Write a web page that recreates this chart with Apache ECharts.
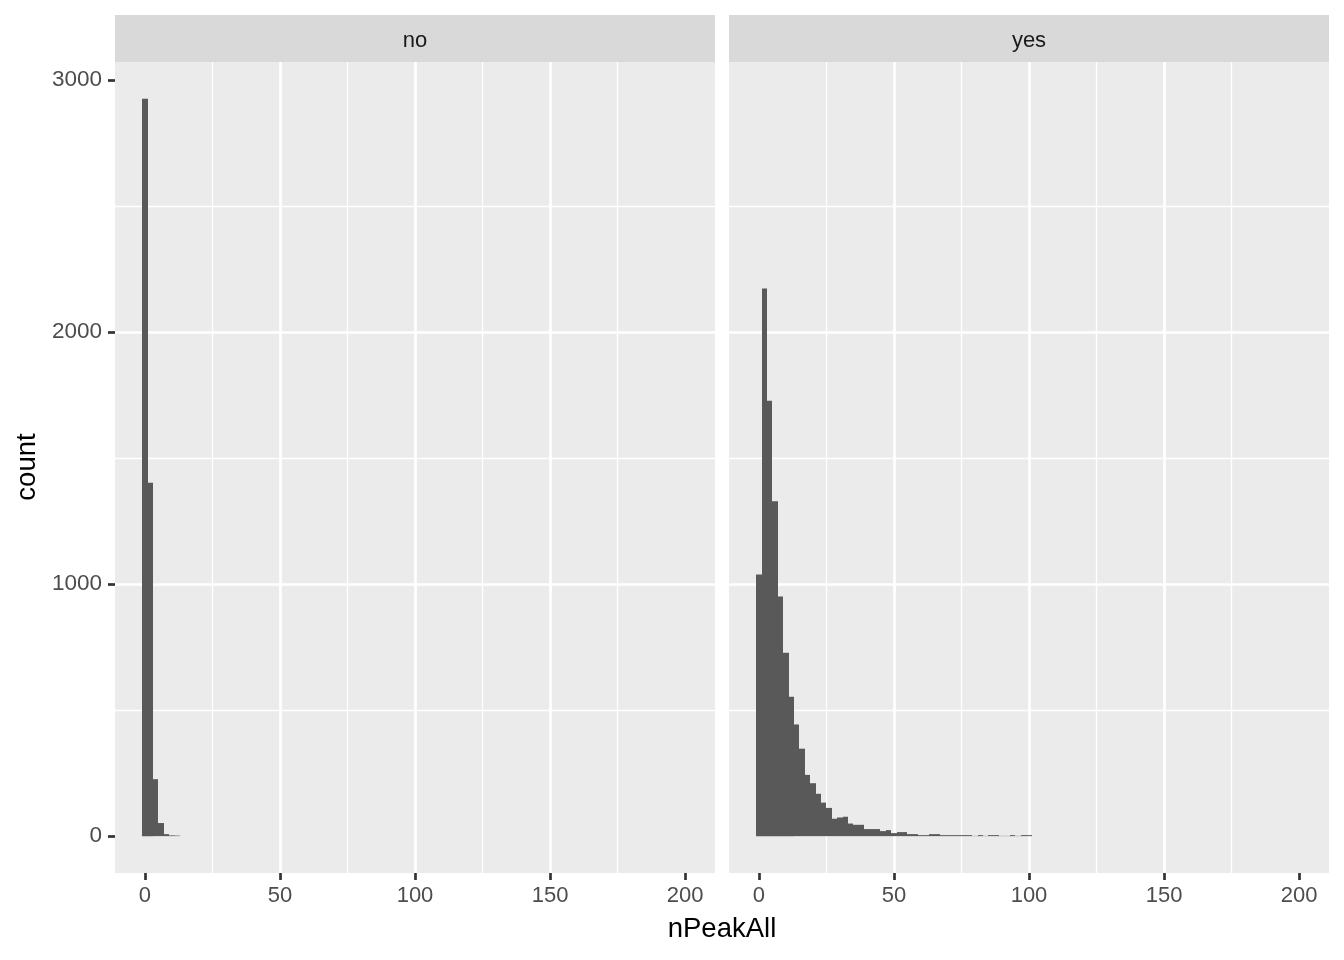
<!DOCTYPE html>
<html>
<head>
<meta charset="utf-8">
<title>nPeakAll histogram</title>
<script src="https://cdn.jsdelivr.net/npm/echarts@6/dist/echarts.min.js"></script>
<style>
  html, body { margin: 0; padding: 0; background: #fff; }
  #chart { width: 1344px; height: 960px; }
</style>
</head>
<body>
<div id="chart"></div>
<script>
// facet panels
const panels = ["no", "yes"];
// histogram bins: width 2, first bin starts at -1 (centres 0, 2, 4, ...)
const binStart = -1;
const binWidth = 2;
// counts per bin
const noCounts = [2925, 1402, 226, 52, 8, 3, 2];
const yesCounts = [
  1038, 2173, 1727, 1329, 951, 728, 553, 443, 347, 243,
  210, 168, 133, 112, 69, 74, 77, 50, 45, 45,
  28, 28, 28, 20, 24, 12, 16, 16, 8, 8,
  4, 4, 8, 8, 4, 4, 4, 4, 4, 4,
  1, 4, 1, 4, 4, 1, 1, 4, 1, 4,
  4
];
// axis ticks
const xTicks = [0, 50, 100, 150, 200];
const yTicks = [0, 1000, 2000, 3000];

const FONT = "Liberation Sans";
const xMin = -11.1, xMax = 211.1;
const yMin = -146.25, yMax = 3071.25;

function toBins(counts) {
  const out = [];
  counts.forEach((c, i) => {
    if (c > 0) {
      const lo = binStart + i * binWidth;
      out.push([lo, lo + binWidth, c]);
    }
  });
  return out;
}

const grids = [
  { left: 115, top: 62, width: 600, height: 811 },
  { left: 729, top: 62, width: 600, height: 811 }
];

function xAxisFor(i) {
  return {
    type: "value",
    gridIndex: i,
    min: xMin,
    max: xMax,
    splitNumber: 5,
    axisLine: { show: false, onZero: false },
    axisTick: {
      show: true, length: 7, customValues: xTicks,
      lineStyle: { color: "#333333", width: 2.7 }
    },
    axisLabel: {
      customValues: xTicks, margin: 12,
      color: "#4D4D4D", fontSize: 22, fontFamily: FONT,
      formatter: v => String(v)
    },
    splitLine: {
      show: true, showMinLine: false, showMaxLine: false,
      lineStyle: { color: "#ffffff", width: 2.7 }
    },
    minorTick: { show: false, splitNumber: 2 },
    minorSplitLine: { show: true, lineStyle: { color: "#ffffff", width: 1.35 } }
  };
}

function yAxisFor(i) {
  return {
    type: "value",
    gridIndex: i,
    min: yMin,
    max: yMax,
    splitNumber: 3,
    axisLine: { show: false, onZero: false },
    axisTick: {
      show: i === 0, length: 7, customValues: yTicks,
      lineStyle: { color: "#333333", width: 2.7 }
    },
    axisLabel: {
      show: i === 0, customValues: yTicks, margin: 13,
      color: "#4D4D4D", fontSize: 22.5, fontFamily: FONT,
      formatter: v => String(v)
    },
    splitLine: {
      show: true, showMinLine: false, showMaxLine: false,
      lineStyle: { color: "#ffffff", width: 2.7 }
    },
    minorTick: { show: false, splitNumber: 2 },
    minorSplitLine: { show: true, lineStyle: { color: "#ffffff", width: 1.35 } }
  };
}

function histSeries(i, counts) {
  return {
    type: "custom",
    name: panels[i],
    xAxisIndex: i,
    yAxisIndex: i,
    encode: { x: [0, 1], y: 2 },
    data: toBins(counts),
    renderItem(params, api) {
      const top = api.coord([api.value(0), api.value(2)]);
      const bottom = api.coord([api.value(1), 0]);
      // snap horizontal edges to whole pixels so neighbouring bars join cleanly
      const x0 = Math.round(top[0]);
      const x1 = Math.round(bottom[0]);
      return {
        type: "rect",
        shape: { x: x0, y: top[1], width: x1 - x0, height: bottom[1] - top[1] },
        style: { fill: "#595959" }
      };
    }
  };
}

const stripGraphics = [];
panels.forEach((p, i) => {
  stripGraphics.push({
    type: "rect",
    shape: { x: grids[i].left, y: 15, width: grids[i].width, height: 47 },
    style: { fill: "#D9D9D9" }
  });
  stripGraphics.push({
    type: "text",
    x: grids[i].left + grids[i].width / 2,
    y: 40.5,
    style: {
      text: p, fill: "#1A1A1A", font: "22px " + FONT,
      align: "center", verticalAlign: "middle"
    }
  });
});

const chart = echarts.init(document.getElementById("chart"), null, { renderer: "canvas" });
chart.setOption({
  animation: false,
  backgroundColor: "#ffffff",
  grid: grids.map(g => Object.assign({ show: true, backgroundColor: "#EBEBEB", borderWidth: 0 }, g)),
  xAxis: [xAxisFor(0), xAxisFor(1)],
  yAxis: [yAxisFor(0), yAxisFor(1)],
  series: [histSeries(0, noCounts), histSeries(1, yesCounts)],
  graphic: stripGraphics.concat([
    {
      type: "text",
      x: 722, y: 929,
      style: {
        text: "nPeakAll", fill: "#000000", font: "27.5px " + FONT,
        align: "center", verticalAlign: "middle"
      }
    },
    {
      type: "text",
      x: 27, y: 467,
      rotation: Math.PI / 2,
      style: {
        text: "count", fill: "#000000", font: "27.5px " + FONT,
        align: "center", verticalAlign: "middle"
      }
    }
  ])
});
window.addEventListener("resize", () => {
  chart.resize();
});
</script>
</body>
</html>
